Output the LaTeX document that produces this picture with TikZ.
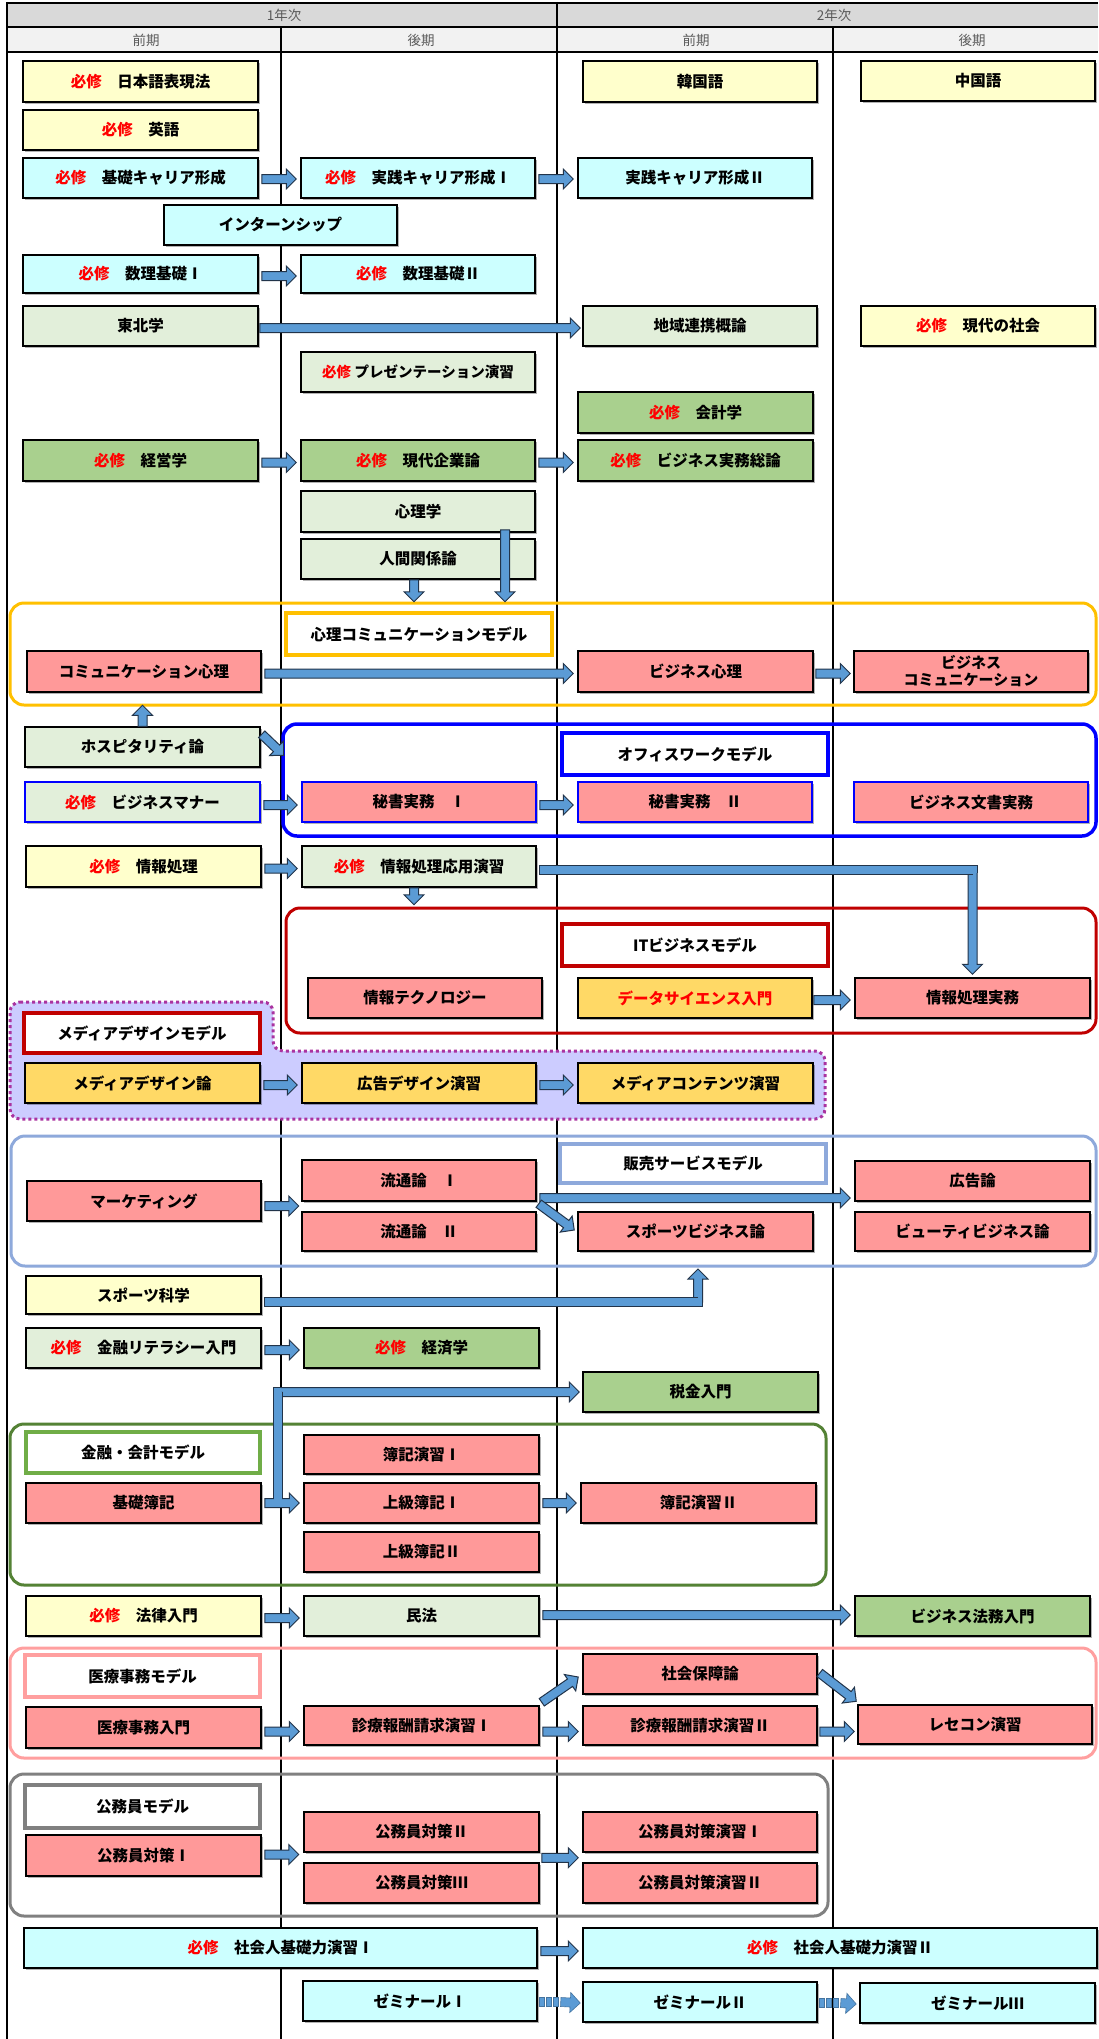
\documentclass[tikz,border=0pt]{standalone}
\usepackage{fontspec}
\newfontfamily\jp{Noto Sans CJK JP}
\usetikzlibrary{calc,shadows}
\definecolor{lyellow}{HTML}{FFFFCC}
\definecolor{lcyan}{HTML}{CCFFFF}
\definecolor{lgreen}{HTML}{E2EFDA}
\definecolor{mgreen}{HTML}{A9D08E}
\definecolor{pinkc}{HTML}{FF9999}
\definecolor{goldc}{HTML}{FFD966}
\definecolor{arrblue}{HTML}{5B9BD5}
\definecolor{arrline}{HTML}{22344A}
\definecolor{orangeg}{HTML}{FFC000}
\definecolor{blueg}{HTML}{0000FF}
\definecolor{redg}{HTML}{C00000}
\definecolor{purpleg}{HTML}{AA33A0}
\definecolor{lavender}{HTML}{CCCCFF}
\definecolor{salesg}{HTML}{8EA9DB}
\definecolor{fing}{HTML}{548235}
\definecolor{finl}{HTML}{70AD47}
\definecolor{medg}{HTML}{FF9F9F}
\definecolor{grayg}{HTML}{808080}
\definecolor{hdra}{HTML}{D9D9D9}
\definecolor{hdrb}{HTML}{F2F2F2}
\definecolor{hdrtxt}{HTML}{595959}
\newcommand\hs{\textcolor{red}{必修}}
\tikzset{
  bx/.style n args={4}{minimum width={#3-#1}, minimum height={#4-#2}, at={({(#1+#3)/2},{(#2+#4)/2})}},
  course/.style={draw=black, line width=1.5pt, inner sep=0pt, align=center,
     font={\jp\bfseries\fontsize{15.5}{18}\selectfont},
     drop shadow={shadow xshift=1.5pt, shadow yshift=-2pt, opacity=0.3, fill=black}},
  model/.style={line width=3.5pt, fill=white, inner sep=0pt, align=center,
     font={\jp\bfseries\fontsize{15.5}{18}\selectfont}},
  grp/.style={line width=3pt, rounded corners=14pt},
  hdr/.style={font={\jp\fontsize{13.5}{16}\selectfont}, text=hdrtxt, inner sep=0pt},
  barrow/.style={fill=arrblue, draw=arrline, line width=1pt, line join=miter},
  shaftout/.style={line width=10pt, draw=arrline, line join=miter},
  shaftin/.style={line width=8pt, draw=arrblue, line join=miter},
  sbarrow/.style={fill=arrblue, draw=arrblue!75!black, line width=0.6pt, line join=miter}
}
\newcommand\blk[3][]{%
  \coordinate (bA) at #2;
  \coordinate (bB) at #3;
  \coordinate (bC) at ($(bB)!10pt!(bA)$);
  \filldraw[barrow,#1] ($(bA)!4.5pt!90:(bB)$) -- ($(bC)!4.5pt!-90:(bA)$) -- ($(bC)!10pt!-90:(bA)$) -- (bB) -- ($(bC)!10pt!90:(bA)$) -- ($(bC)!4.5pt!90:(bA)$) -- ($(bA)!4.5pt!-90:(bB)$) -- cycle;}
\newcommand\stripe[2]{%
  \coordinate (sA) at #1;
  \coordinate (sB) at #2;
  \foreach \k in {0,7,14}{\filldraw[sbarrow] ($(sA)+(\k,-4.5)$) rectangle ($(sA)+(\k+5,4.5)$);}
  \blk[sbarrow]{($(sA)+(21,0)$)}{(sB)}}
\begin{document}
\begin{tikzpicture}[x=1pt,y=-1pt]
\useasboundingbox (0,0) rectangle (1098,2039);
\fill[white] (0,0) rectangle (1098,2039);
% header
\fill[hdra] (7,3) rectangle (1098,27);
\fill[hdrb] (7,27) rectangle (1098,52);
\draw[line width=2pt] (7,3) -- (1098,3);
\draw[line width=1.5pt] (7,27) -- (1098,27) (7,52) -- (1098,52);
\draw[line width=1.5pt] (7,2) -- (7,2039) (557,2) -- (557,2039) (281,27) -- (281,2039) (833,27) -- (833,2039);
\node[hdr] (y1) at (284,15) {1年次};
\node[hdr] (y2) at (834,15) {2年次};
\node[hdr] (s11) at (146,40) {前期};
\node[hdr] (s12) at (421,40) {後期};
\node[hdr] (s21) at (696,40) {前期};
\node[hdr] (s22) at (972,40) {後期};
% groups
\draw[grp, orangeg] (10,603) rectangle (1096,705);
\draw[grp, blueg, line width=3.5pt] (283,724) rectangle (1096,836);
\draw[grp, redg] (286,908) rectangle (1096,1033);
\filldraw[line width=3pt, draw=purpleg, fill=lavender, dash pattern=on 3pt off 3pt, rounded corners=10pt]
  (10,1002) -- (273,1002) -- (273,1051) -- (825,1051) -- (825,1119) -- (10,1119) -- cycle;
\draw[grp, salesg] (11,1136) rectangle (1096,1266);
\draw[grp, fing] (10,1424) rectangle (826,1585);
\draw[grp, medg] (10,1648) rectangle (1096,1758);
\draw[grp, grayg] (10,1774) rectangle (828,1916);
% model labels
\node[model, draw=orangeg, bx={286}{613}{552}{655}] (m1) {心理コミュニケーションモデル};
\node[model, draw=blueg, bx={562}{733}{828}{775}] (m2) {オフィスワークモデル};
\node[model, draw=redg, bx={562}{924}{828}{966}] (m3) {ITビジネスモデル};
\node[model, draw=redg, bx={24}{1013}{260}{1053}] (m4) {メディアデザインモデル};
\node[model, draw=salesg, bx={560}{1144}{826}{1183}] (m5) {販売サービスモデル};
\node[model, draw=finl, bx={26}{1432}{260}{1473}] (m6) {金融・会計モデル};
\node[model, draw=medg, bx={25}{1655}{260}{1697}] (m7) {医療事務モデル};
\node[model, draw=grayg, bx={25}{1785}{260}{1828}] (m8) {公務員モデル};
% courses
\node[course, fill=lyellow, bx={23}{61}{258}{102}] (nihongo) {\hs{}　日本語表現法};
\node[course, fill=lyellow, bx={583}{61}{817}{102}] (kankoku) {韓国語};
\node[course, fill=lyellow, bx={861}{61}{1095}{101}] (chugoku) {中国語};
\node[course, fill=lyellow, bx={23}{110}{258}{150}] (eigo) {\hs{}　英語};
\node[course, fill=lcyan, bx={23}{158}{258}{198}] (kiso) {\hs{}　基礎キャリア形成};
\node[course, fill=lcyan, bx={301}{158}{535}{198}] (jis1) {\hs{}　実践キャリア形成Ⅰ};
\node[course, fill=lcyan, bx={578}{158}{812}{198}] (jis2) {実践キャリア形成Ⅱ};
\node[course, fill=lcyan, bx={164}{205}{397}{245}] (intern) {インターンシップ};
\node[course, fill=lcyan, bx={23}{255}{258}{293}] (suri1) {\hs{}　数理基礎Ⅰ};
\node[course, fill=lcyan, bx={301}{255}{535}{293}] (suri2) {\hs{}　数理基礎Ⅱ};
\node[course, fill=lgreen, bx={23}{306}{258}{346}] (tohoku) {東北学};
\node[course, fill=lgreen, bx={583}{306}{817}{346}] (chiiki) {地域連携概論};
\node[course, fill=lyellow, bx={861}{306}{1095}{346}] (gendai) {\hs{}　現代の社会};
\node[course, fill=lgreen, bx={301}{352}{535}{392}, font={\jp\bfseries\fontsize{14.5}{17}\selectfont}] (pres) {\hs{} プレゼンテーション演習};
\node[course, fill=mgreen, bx={578}{392}{813}{433}] (kaikei) {\hs{}　会計学};
\node[course, fill=mgreen, bx={23}{440}{258}{481}] (keiei) {\hs{}　経営学};
\node[course, fill=mgreen, bx={301}{440}{535}{481}] (kigyo) {\hs{}　現代企業論};
\node[course, fill=mgreen, bx={578}{440}{813}{481}] (somu) {\hs{}　ビジネス実務総論};
\node[course, fill=lgreen, bx={301}{491}{535}{532}] (shinri) {心理学};
\node[course, fill=lgreen, bx={301}{539}{535}{579}] (ningen) {人間関係論};
\node[course, fill=pinkc, bx={27}{651}{261}{692}] (comm) {コミュニケーション心理};
\node[course, fill=pinkc, bx={578}{651}{813}{692}] (bizs) {ビジネス心理};
\node[course, fill=pinkc, bx={854}{651}{1088}{692}, font={\jp\bfseries\fontsize{15}{17}\selectfont}] (bizc) {ビジネス\\コミュニケーション};
\node[course, fill=lgreen, bx={25}{727}{260}{767}] (hosp) {ホスピタリティ論};
\node[course, fill=lgreen, draw=blueg, bx={25}{782}{260}{822}] (manner) {\hs{}　ビジネスマナー};
\node[course, fill=pinkc, draw=blueg, bx={302}{782}{536}{822}] (hisho1) {秘書実務　Ⅰ};
\node[course, fill=pinkc, draw=blueg, bx={578}{782}{812}{822}] (hisho2) {秘書実務　Ⅱ};
\node[course, fill=pinkc, draw=blueg, bx={854}{782}{1088}{822}] (bunsho) {ビジネス文書実務};
\node[course, fill=lyellow, bx={26}{846}{261}{887}] (joho) {\hs{}　情報処理};
\node[course, fill=lgreen, bx={302}{846}{536}{887}] (johoap) {\hs{}　情報処理応用演習};
\node[course, fill=pinkc, bx={308}{978}{542}{1018}] (itech) {情報テクノロジー};
\node[course, fill=goldc, bx={578}{978}{812}{1018}, text=red] (ds) {データサイエンス入門};
\node[course, fill=pinkc, bx={855}{978}{1090}{1018}] (jitsumu) {情報処理実務};
\node[course, fill=goldc, bx={25}{1063}{260}{1103}] (mdr) {メディアデザイン論};
\node[course, fill=goldc, bx={302}{1063}{536}{1103}] (kokokud) {広告デザイン演習};
\node[course, fill=goldc, bx={578}{1063}{813}{1103}] (mcont) {メディアコンテンツ演習};
\node[course, fill=pinkc, bx={27}{1181}{261}{1221}] (mkt) {マーケティング};
\node[course, fill=pinkc, bx={302}{1160}{536}{1201}] (ryu1) {流通論　Ⅰ};
\node[course, fill=pinkc, bx={302}{1212}{536}{1251}] (ryu2) {流通論　Ⅱ};
\node[course, fill=pinkc, bx={855}{1161}{1090}{1201}] (koku) {広告論};
\node[course, fill=pinkc, bx={578}{1212}{813}{1251}] (sportb) {スポーツビジネス論};
\node[course, fill=pinkc, bx={855}{1212}{1090}{1251}] (beauty) {ビューティビジネス論};
\node[course, fill=lyellow, bx={26}{1276}{261}{1314}] (sports) {スポーツ科学};
\node[course, fill=lgreen, bx={26}{1328}{261}{1368}] (kinyu) {\hs{}　金融リテラシー入門};
\node[course, fill=mgreen, bx={304}{1328}{539}{1368}] (keizai) {\hs{}　経済学};
\node[course, fill=mgreen, bx={583}{1372}{818}{1412}] (zeikin) {税金入門};
\node[course, fill=pinkc, bx={26}{1483}{261}{1523}] (boki) {基礎簿記};
\node[course, fill=pinkc, bx={304}{1435}{539}{1474}] (bokien1) {簿記演習Ⅰ};
\node[course, fill=pinkc, bx={304}{1483}{539}{1523}] (jobo1) {上級簿記Ⅰ};
\node[course, fill=pinkc, bx={304}{1532}{539}{1572}] (jobo2) {上級簿記Ⅱ};
\node[course, fill=pinkc, bx={581}{1483}{816}{1523}] (bokien2) {簿記演習Ⅱ};
\node[course, fill=lyellow, bx={26}{1596}{261}{1636}] (hou) {\hs{}　法律入門};
\node[course, fill=lgreen, bx={304}{1596}{539}{1636}] (minpo) {民法};
\node[course, fill=mgreen, bx={855}{1596}{1090}{1636}] (houmu) {ビジネス法務入門};
\node[course, fill=pinkc, bx={26}{1707}{261}{1748}] (iryo) {医療事務入門};
\node[course, fill=pinkc, bx={304}{1706}{539}{1745}] (shin1) {診療報酬請求演習Ⅰ};
\node[course, fill=pinkc, bx={583}{1654}{817}{1694}] (shakai) {社会保障論};
\node[course, fill=pinkc, bx={583}{1706}{817}{1745}] (shin2) {診療報酬請求演習Ⅱ};
\node[course, fill=pinkc, bx={858}{1705}{1092}{1744}] (resecon) {レセコン演習};
\node[course, fill=pinkc, bx={26}{1835}{261}{1876}] (kom1) {公務員対策Ⅰ};
\node[course, fill=pinkc, bx={304}{1812}{539}{1852}] (kom2) {公務員対策Ⅱ};
\node[course, fill=pinkc, bx={304}{1863}{539}{1903}] (kom3) {公務員対策Ⅲ};
\node[course, fill=pinkc, bx={583}{1812}{817}{1852}] (komen1) {公務員対策演習Ⅰ};
\node[course, fill=pinkc, bx={583}{1863}{817}{1903}] (komen2) {公務員対策演習Ⅱ};
\node[course, fill=lcyan, bx={24}{1928}{537}{1968}] (sj1) {\hs{}　社会人基礎力演習Ⅰ};
\node[course, fill=lcyan, bx={583}{1928}{1097}{1968}] (sj2) {\hs{}　社会人基礎力演習Ⅱ};
\node[course, fill=lcyan, bx={303}{1981}{537}{2021}] (zemi1) {ゼミナールⅠ};
\node[course, fill=lcyan, bx={583}{1982}{817}{2022}] (zemi2) {ゼミナールⅡ};
\node[course, fill=lcyan, bx={860}{1983}{1095}{2023}] (zemi3) {ゼミナールⅢ};
% free ends
\coordinate (tNin) at ($(ningen.south)+(-4,22)$);
\coordinate (tShi) at ($(shinri.south)+(87,69)$);
\coordinate (tHospUp) at ($(hosp.north)+(0,-21)$);
\coordinate (tHospD) at ($(hosp.north east)+(23,29)$);
\coordinate (tJoho) at ($(johoap.south)+(-5,17)$);
\coordinate (tMkt) at ($(mkt.east)+(37,5)$);
\coordinate (tSport) at (698,1269);
\coordinate (tKom) at ($(kom1.east)+(37,-1)$);
% arrows
\blk{($(kiso.east)+(3,1)$)}{($(jis1.west)+(-4,1)$)}
\blk{($(jis1.east)+(3,1)$)}{($(jis2.west)+(-4,1)$)}
\blk{($(suri1.east)+(3,2)$)}{($(suri2.west)+(-4,2)$)}
\blk{($(tohoku.east)+(1,2)$)}{($(chiiki.west)+(-2,2)$)}
\blk{($(keiei.east)+(3,2)$)}{($(kigyo.west)+(-4,2)$)}
\blk{($(kigyo.east)+(3,2)$)}{($(somu.west)+(-4,2)$)}
\blk{($(ningen.south)+(-4,0)$)}{(tNin)}
\blk{($(shinri.south)+(87,-3)$)}{(tShi)}
\blk{($(comm.east)+(3,2)$)}{($(bizs.west)+(-4,2)$)}
\blk{($(bizs.east)+(2,2)$)}{($(bizc.west)+(-3,2)$)}
\blk{(hosp.north)}{(tHospUp)}
\blk{($(hosp.north east)+(1,8)$)}{(tHospD)}
\blk{($(manner.east)+(3,3)$)}{($(hisho1.west)+(-4,3)$)}
\blk{($(hisho1.east)+(3,3)$)}{($(hisho2.west)+(-4,3)$)}
\blk{($(joho.east)+(3,2)$)}{($(johoap.west)+(-4,2)$)}
\blk{($(johoap.south)+(-5,0)$)}{(tJoho)}
% bent arrow johoap -> jitsumu
\coordinate (j0) at ($(johoap.east)+(3,3.5)$);
\coordinate (j1) at (jitsumu.north |- j0);
\coordinate (j2) at ($(jitsumu.north)+(0,-3)$);
\blk{(j1)}{(j2)}
\draw[shaftout, shorten <=-1pt] (j0) -- (j1) -- ($(j1)+(0,3)$);
\draw[shaftin] (j0) -- (j1) -- ($(j1)+(0,3)$);
\blk{($(ds.east)+(1,2)$)}{($(jitsumu.west)+(-4,2)$)}
\blk{($(mdr.east)+(3,2)$)}{($(kokokud.west)+(-4,2)$)}
\blk{($(kokokud.east)+(3,2)$)}{($(mcont.west)+(-4,2)$)}
\blk{($(mkt.east)+(3,5)$)}{(tMkt)}
\blk{($(ryu1.east)+(3,17.5)$)}{($(koku.west)+(-4,17)$)}
\blk{($(ryu1.south east)+(2,2)$)}{($(sportb.west)+(-3,-1.5)$)}
% bent arrow sports -> sales group
\coordinate (s0) at ($(sports.east)+(3,7)$);
\coordinate (s1) at (tSport |- s0);
\blk{(s1)}{(tSport)}
\draw[shaftout, shorten <=-1pt] (s0) -- (s1) -- ($(s1)+(0,-3)$);
\draw[shaftin] (s0) -- (s1) -- ($(s1)+(0,-3)$);
\blk{($(kinyu.east)+(3,2)$)}{($(keizai.west)+(-4,2)$)}
\blk{($(boki.east)+(3,0)$)}{($(jobo1.west)+(-4,0)$)}
% bent arrow boki -> zeikin
\coordinate (k0) at ($(boki.east)+(16,0)$);
\coordinate (k1) at (k0 |- zeikin.west);
\coordinate (k2) at ($(zeikin.west)+(-3,0)$);
\blk{(k1)}{(k2)}
\draw[shaftout] ($(k0)+(0,-4.5)$) -- (k1) -- ($(k1)+(3,0)$);
\draw[shaftin] (k0) -- (k1) -- ($(k1)+(3,0)$);
\blk{($(jobo1.east)+(3,0)$)}{($(bokien2.west)+(-4,0)$)}
\blk{($(hou.east)+(3,2)$)}{($(minpo.west)+(-4,2)$)}
\blk{($(minpo.east)+(3,-1)$)}{($(houmu.west)+(-4,-1)$)}
\blk{($(iryo.east)+(3,4)$)}{($(shin1.west)+(-4,6)$)}
\blk{($(shin1.north east)+(2,-3)$)}{($(shakai.west)+(-4,3)$)}
\blk{($(shin1.east)+(3,6)$)}{($(shin2.west)+(-4,6)$)}
\blk{($(shin2.east)+(2,6)$)}{($(resecon.west)+(-3,7)$)}
\blk{($(shakai.east)+(2,-1)$)}{($(resecon.north west)+(-1,-3)$)}
\blk{($(kom1.east)+(3,-1)$)}{(tKom)}
\blk{($(kom2.south east)+(2,5)$)}{($(komen1.south west)+(-4,5)$)}
\blk{($(sj1.east)+(3,3)$)}{($(sj2.west)+(-4,3)$)}
\stripe{($(zemi1.east)+(2,1)$)}{($(zemi2.west)+(-2,1)$)}
\stripe{($(zemi2.east)+(2,1)$)}{($(zemi3.west)+(-3,1)$)}
\end{tikzpicture}
\end{document}
